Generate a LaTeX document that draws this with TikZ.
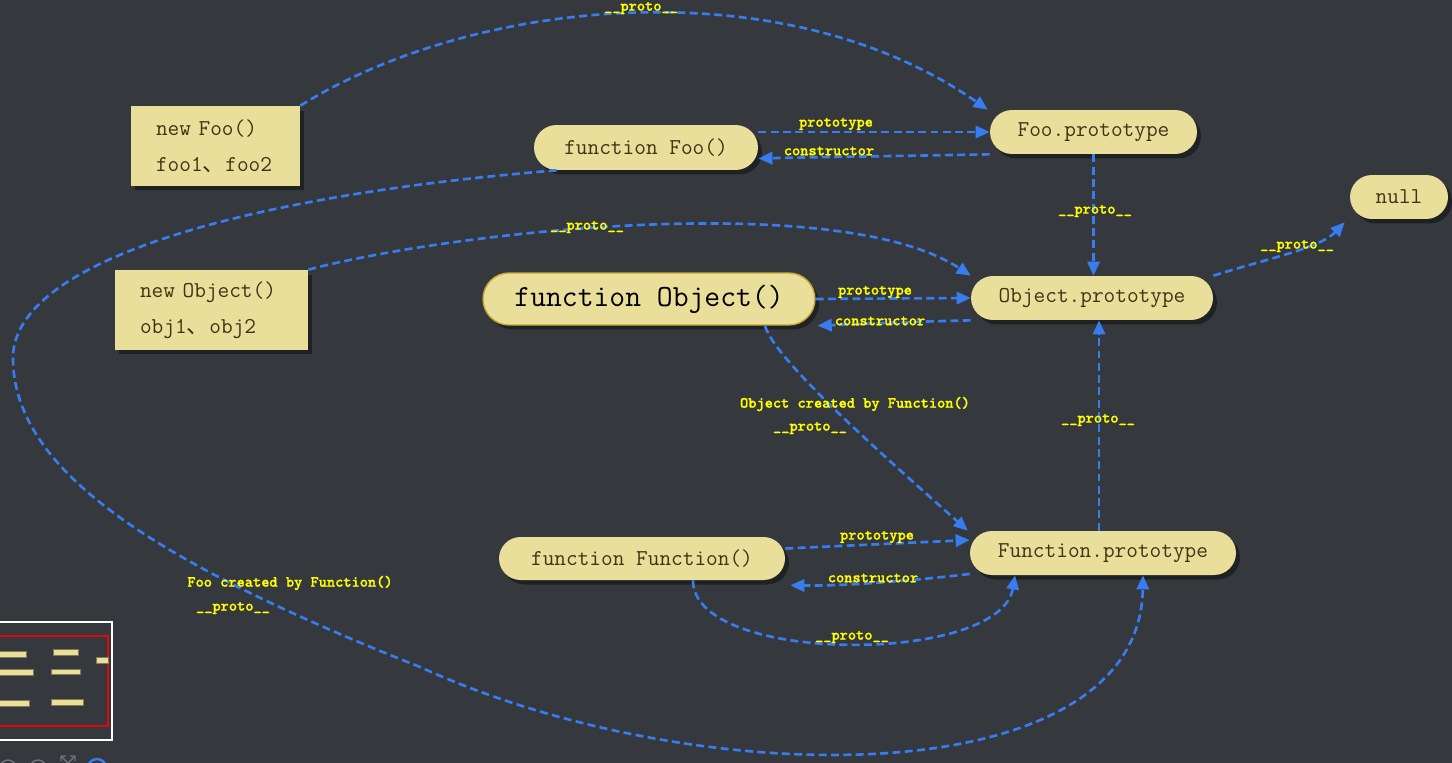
\documentclass[tikz,border=0pt]{standalone}
\usepackage{fontspec}
\newfontfamily\cjk{Noto Sans CJK SC}
\newfontfamily\lblfont{lmmonolt10-bold.otf}[FakeBold=1.2]
\usetikzlibrary{arrows.meta,shapes.misc,shadows}

\definecolor{boardbg}{RGB}{53,57,62}
\definecolor{khaki}{RGB}{234,223,154}
\definecolor{inkbrown}{RGB}{62,52,22}
\definecolor{linkblue}{RGB}{55,125,240}
\definecolor{lblyellow}{RGB}{255,255,0}
\definecolor{goldedge}{RGB}{200,168,50}
\definecolor{mapred}{RGB}{220,10,10}
\definecolor{icongray}{RGB}{110,114,118}

\tikzset{
	boxshadow/.style={drop shadow={shadow xshift=0.08cm, shadow yshift=-0.09cm, fill=black, opacity=0.4}},
	pill/.style={rounded rectangle, fill=khaki, text=inkbrown, inner sep=0pt, minimum height=0.88cm,
		font=\ttfamily\fontsize{12.9pt}{15pt}\selectfont, boxshadow},
	note/.style={rectangle, fill=khaki, text=inkbrown, align=left, inner xsep=0.5cm, inner ysep=0pt,
		minimum height=1.6cm, font=\ttfamily\fontsize{12.9pt}{20.4pt}\selectfont, boxshadow},
	link/.style={draw=linkblue, line width=1.5pt, dash pattern=on 4.5pt off 2.5pt,
		-{Triangle[length=8pt,width=7pt]}},
	lbl/.style={text=lblyellow, inner sep=0pt, font=\lblfont\fontsize{8.9pt}{10pt}\selectfont},
	mapbar/.style={fill=khaki, draw=khaki!55!black, line width=0.4pt},
}

\begin{document}
\begin{tikzpicture}[x=0.02cm, y=-0.02cm]
			%%%%% START %%%%%
			
			\useasboundingbox (0,0) rectangle (1452,763);
			\fill[boardbg] (0,0) rectangle (1452,763);
			
			% objects and functions
			\node[note, text width=2.38cm] (newFoo) at (215.5,146) {new Foo()\\foo1{\cjk 、}foo2};
			\node[note, text width=2.86cm] (newObj) at (211.5,310) {new Object()\\obj1{\cjk 、}obj2};
			
			\node[pill, minimum width=4.48cm, minimum height=0.9cm] (funcFoo) at (646,147.5) {function Foo()};
			\node[pill, minimum width=4.14cm] (fooProto) at (1093.5,132) {Foo.prototype};
			\node[pill, minimum width=1.96cm] (nullBox) at (1399,197) {null};
			
			\node[pill, minimum width=6.64cm, minimum height=1.04cm, draw=goldedge, line width=0.8pt, text=black,
				font=\ttfamily\fontsize{17.5pt}{20pt}\selectfont] (funcObj) at (649,299) {function Object()};
			\node[pill, minimum width=4.84cm] (objProto) at (1092,298) {Object.prototype};
			
			\node[pill, minimum width=5.72cm, minimum height=0.86cm] (funcFunc) at (642,558.5) {function Function()};
			\node[pill, minimum width=5.32cm] (funcProto) at (1103,553) {Function.prototype};
			
			% links
			\draw[link] (newFoo.north east) .. controls (470,0) and (780,-35) .. ([xshift=-0.04cm]fooProto.west |- fooProto.north);
			\draw[link] (funcFoo.east |- fooProto.west) -- (fooProto.west);
			\draw[link] (fooProto.west |- fooProto.south) .. controls (900,156) and (820,157) .. ([yshift=-0.22cm]funcFoo.east);
			\draw[link] (fooProto.south) -- (fooProto.south |- objProto.north);
			\draw[link] (objProto.east |- objProto.north) .. controls (1270,258) and (1320,248) .. ([xshift=-0.1cm,yshift=-0.06cm]nullBox.west |- nullBox.south);
			
			\draw[link] (newObj.north east) .. controls (460,230) and (840,190) .. (objProto.west |- objProto.north);
			\draw[link] (funcObj.east) -- (objProto.west);
			\draw[link] (objProto.west |- objProto.south) .. controls (900,322) and (860,324) .. ([xshift=0.04cm]funcObj.east |- funcObj.south);
			\draw[link] ([xshift=2.32cm]funcObj.south) .. controls (775,362) and (900,470) .. ([xshift=-0.04cm]funcProto.west |- funcProto.north);
			\draw[link] ([xshift=-0.08cm]funcProto.north) -- ([xshift=-0.08cm]funcProto.north |- objProto.south);
			
			\draw[link] ([yshift=0.2cm]funcFunc.east) -- ([yshift=0.26cm]funcProto.west);
			\draw[link] ([yshift=-0.42cm]funcProto.west) .. controls (900,582) and (840,586) .. ([xshift=0.1cm,yshift=-0.1cm]funcFunc.east |- funcFunc.south);
			\draw[link] ([xshift=1.02cm]funcFunc.south) .. controls (693,665) and (1000,665) .. ([xshift=-1.76cm]funcProto.south);
			
			\draw[link] (funcFoo.south west) .. controls (250,195) and (10,260) .. (13,360)
				.. controls (15,470) and (150,560) .. (420,667)
				.. controls (700,795) and (1140,795) .. ([xshift=0.8cm]funcProto.south);
			
			% link labels
			\node[lbl] (lTop) at (641,8) {\_\_proto\_\_};
			\node[lbl] (lFooPt) at (836,124) {prototype};
			\node[lbl] (lFooCt) at (829,151) {constructor};
			\node[lbl] (lFooUp) at (1095,211) {\_\_proto\_\_};
			\node[lbl] (lNull) at (1297,246) {\_\_proto\_\_};
			\node[lbl] (lObjNew) at (587,227) {\_\_proto\_\_};
			\node[lbl] (lObjPt) at (875,292) {prototype};
			\node[lbl] (lObjCt) at (880,321) {constructor};
			\node[lbl] (lObjBy) at (855,404) {Object created by Function()};
			\node[lbl] (lObjUp) at (810,428) {\_\_proto\_\_};
			\node[lbl] (lFnUp) at (1098,420) {\_\_proto\_\_};
			\node[lbl] (lFnPt) at (877,537) {prototype};
			\node[lbl] (lFnCt) at (873,578) {constructor};
			\node[lbl] (lFnSelf) at (852,637) {\_\_proto\_\_};
			\node[lbl] (lFooBy) at (290,583) {Foo created by Function()};
			\node[lbl] (lFooLoop) at (233,608) {\_\_proto\_\_};
			
			% overview map
			\draw[white, line width=0.6pt] (-2,622) rectangle (112,740);
			\draw[mapred, line width=1.2pt] (-2,636) rectangle (108,726);
			\draw[mapbar] (-2,651) rectangle (26,657);
			\draw[mapbar] (53,649) rectangle (78,655);
			\draw[mapbar] (96,657) rectangle (108,663);
			\draw[mapbar] (-2,669) rectangle (33,675);
			\draw[mapbar] (51,669) rectangle (80,674);
			\draw[mapbar] (-2,700) rectangle (29,706);
			\draw[mapbar] (51,699) rectangle (83,705);
			
			% zoom buttons
			\draw[icongray, line width=0.8pt] (8,768) circle (8);
			\draw[icongray, line width=0.8pt] (38,768) circle (8);
			\draw[icongray, line width=0.8pt] (38,768) circle (3);
			\draw[icongray, line width=0.8pt] (61,756) -- (75,770) (61,770) -- (75,756) (61,756) -- (61,761) (61,756) -- (66,756) (75,756) -- (70,756) (75,756) -- (75,761);
			\draw[linkblue, line width=1.4pt] (97,768) circle (9);
			\draw[linkblue, line width=1.4pt] (97,768) circle (4);
			
			%%%%% END %%%%%
		\end{tikzpicture}
\end{document}
